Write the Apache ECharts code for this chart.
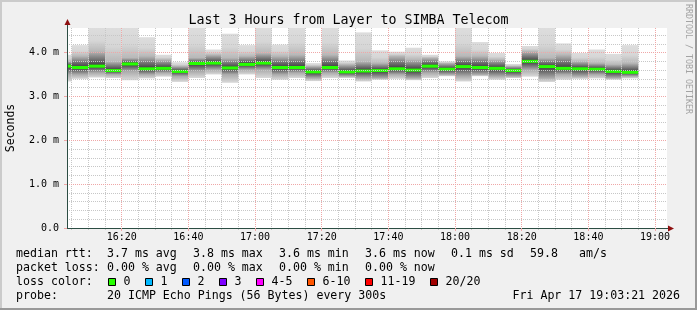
<!DOCTYPE html>
<html><head><meta charset="utf-8">
<script src="https://cdn.jsdelivr.net/npm/echarts@6/dist/echarts.min.js"></script>
<style>html,body{margin:0;padding:0;background:#f0f0f0}#c{width:697px;height:310px}</style>
</head><body><div id="c"></div>
<script>
// Minutes after 16:00 at which each 5-minute bin ends
const binEnd = [5,10,15,20,25,30,35,40,45,50,55,60,65,70,75,80,85,90,95,100,105,110,115,120,125,130,135,140,145,150,155,160,165,170,175];
// Median RTT per bin (ms)
const medianRtt = [3.69,3.66,3.69,3.59,3.74,3.63,3.64,3.57,3.75,3.76,3.65,3.73,3.76,3.66,3.66,3.56,3.66,3.56,3.58,3.59,3.63,3.60,3.69,3.62,3.68,3.66,3.64,3.59,3.80,3.68,3.64,3.63,3.62,3.57,3.55];
// Smoke envelope: highest ping, upper dense band, lower dense band, lowest ping (ms)
const smokeMax = [3.95,4.17,4.57,4.57,4.57,4.35,3.95,3.78,4.57,4.07,4.43,4.17,4.57,4.18,4.57,3.76,4.57,3.82,4.46,4.05,4.02,4.11,3.95,3.80,4.57,4.24,3.99,3.74,4.15,4.57,4.21,3.99,4.07,3.97,4.17];
const smokeUpper = [3.80,3.92,4.03,3.80,3.88,3.92,3.84,3.69,3.88,3.95,3.88,3.92,3.99,3.92,3.95,3.69,3.95,3.73,3.80,3.76,3.92,3.84,3.88,3.76,3.92,3.92,3.84,3.69,4.03,3.88,3.95,3.80,3.76,3.73,3.76];
const smokeLower = [3.50,3.50,3.54,3.50,3.57,3.50,3.54,3.46,3.57,3.61,3.50,3.61,3.61,3.50,3.54,3.42,3.54,3.46,3.42,3.42,3.50,3.42,3.54,3.50,3.46,3.50,3.46,3.46,3.61,3.42,3.50,3.46,3.50,3.42,3.46];
const smokeMin = [3.34,3.40,3.43,3.42,3.37,3.41,3.45,3.33,3.42,3.50,3.31,3.50,3.42,3.38,3.42,3.35,3.42,3.42,3.34,3.38,3.40,3.37,3.42,3.46,3.34,3.46,3.38,3.42,3.45,3.33,3.38,3.40,3.41,3.38,3.41];
// Axis ticks
const xMinorTicks = [5,10,15,20,25,30,35,40,45,50,55,60,65,70,75,80,85,90,95,100,105,110,115,120,125,130,135,140,145,150,155,160,165,170,175,180];
const xMajorTicks = [20,40,60,80,100,120,140,160,180];
const xMajorLabels = ['16:20','16:40','17:00','17:20','17:40','18:00','18:20','18:40','19:00'];
const yMajorLabels = ['0.0','1.0 m','2.0 m','3.0 m','4.0 m'];
// Legend texts
const titleText = 'Last 3 Hours from Layer to SIMBA Telecom';
const rttStats = ['3.7 ms avg','3.8 ms max','3.6 ms min','3.6 ms now','0.1 ms sd'];
const rttExtra = ['59.8','am/s'];
const lossStats = ['0.00 % avg','0.00 % max','0.00 % min','0.00 % now'];
const lossLabels = ['0','1','2','3','4-5','6-10','11-19','20/20'];
const lossColors = ['#26ff00','#00b8ff','#0059ff','#7e00ff','#ff00ff','#ff5500','#ff0000','#a10000'];
const probeText = '20 ICMP Echo Pings (56 Bytes) every 300s';
const stampText = 'Fri Apr 17 19:03:21 2026';

const X_MIN = 3.58, X_MAX = 183.58, Y_MAX = 4.56;
const MONO = '"DejaVu Sans Mono", monospace';
const GRID_C = '#c7c7c7', MGRID_C = '#efa7a7', AXIS_C = '#2c4d43', ARROW_C = '#8e1010';

const chart = echarts.init(document.getElementById('c'), null, {renderer: 'canvas'});

function renderSmoke(params, api) {
  const cs = params.coordSys;
  const end = api.value(0);
  const lo = api.value(1), q1 = api.value(2), med = api.value(3), q3 = api.value(4), hi = api.value(5);
  let x0 = api.coord([end - 5, 0])[0];
  const x1 = api.coord([end, 0])[0];
  x0 = Math.max(x0, cs.x);
  const yHi = Math.max(api.coord([end, hi])[1], cs.y);
  const yLo = api.coord([end, lo])[1];
  const yQ3 = api.coord([end, q3])[1], yMed = api.coord([end, med])[1], yQ1 = api.coord([end, q1])[1];
  const h = yLo - yHi;
  const off = y => Math.min(1, Math.max(0, (y - yHi) / h));
  const oQ3 = off(yQ3), oMed = off(yMed), oQ1 = off(yQ1);
  return {
    type: 'group',
    children: [
      {type: 'rect', shape: {x: x0, y: yHi, width: x1 - x0, height: h},
       style: {fill: new echarts.graphic.LinearGradient(0, 0, 0, 1, [
         {offset: 0, color: '#dddddd'},
         {offset: oQ3 * 0.55, color: '#d6d6d6'},
         {offset: oQ3, color: '#b8b8b8'},
         {offset: oMed, color: '#3a3a3a'},
         {offset: oQ1, color: '#ababab'},
         {offset: 1, color: '#dadada'}])}},
      {type: 'line', shape: {x1: x0, y1: yMed, x2: x1, y2: yMed},
       style: {stroke: lossColors[0], lineWidth: 3}}
    ]
  };
}

// Legend graphics
const txt = (text, x, y, align) => ({type: 'text', x: x, y: y,
  style: {text: text, fill: '#000', fontFamily: MONO, fontSize: 11.6, verticalAlign: 'middle', align: align || 'left'}});
const graphics = [];
// frame
graphics.push({type: 'rect', shape: {x: 0, y: 0, width: 697, height: 2}, style: {fill: '#cbcbcb'}});
graphics.push({type: 'rect', shape: {x: 0, y: 0, width: 2, height: 310}, style: {fill: '#cbcbcb'}});
graphics.push({type: 'rect', shape: {x: 0, y: 308, width: 697, height: 2}, style: {fill: '#999999'}});
graphics.push({type: 'rect', shape: {x: 695, y: 0, width: 2, height: 310}, style: {fill: '#999999'}});
// axis extensions and arrows
graphics.push({type: 'line', shape: {x1: 67.5, y1: 28, x2: 67.5, y2: 24}, style: {stroke: AXIS_C, lineWidth: 1}});
graphics.push({type: 'polygon', shape: {points: [[64.5, 25], [70.5, 25], [67.5, 19]]}, style: {fill: ARROW_C}});
graphics.push({type: 'line', shape: {x1: 667, y1: 228.5, x2: 670, y2: 228.5}, style: {stroke: AXIS_C, lineWidth: 1}});
graphics.push({type: 'polygon', shape: {points: [[668, 225.5], [668, 231.5], [674, 228.5]]}, style: {fill: ARROW_C}});
// right vertical credit
graphics.push({type: 'text', x: 688, y: 4, rotation: -Math.PI / 2,
  style: {text: 'RRDTOOL / TOBI OETIKER', fill: '#a3a3a3', fontFamily: MONO, fontSize: 8.3, align: 'left', verticalAlign: 'middle'}});
// row 1
graphics.push(txt('median rtt:', 16, 254));
rttStats.forEach((s, i) => graphics.push(txt(s, 107 + 86 * i, 254)));
graphics.push(txt(rttExtra[0], 530, 254));
graphics.push(txt(rttExtra[1], 579, 254));
// row 2
graphics.push(txt('packet loss:', 16, 268));
lossStats.forEach((s, i) => graphics.push(txt(s, 107 + 86 * i, 268)));
// row 3
graphics.push(txt('loss color:', 16, 282));
let bx = 108.5;
lossLabels.forEach((s, i) => {
  graphics.push({type: 'rect', shape: {x: bx, y: 278.5, width: 7, height: 7}, style: {fill: lossColors[i], stroke: '#000', lineWidth: 1}});
  graphics.push(txt(s, bx + 15, 282));
  bx = bx + 15 + s.length * 7 + 15;
});
// row 4
graphics.push(txt('probe:', 16, 296));
graphics.push(txt(probeText, 107, 296));
graphics.push(txt(stampText, 680, 296, 'right'));

const fmtTime = v => { const i = xMajorTicks.indexOf(Math.round(v)); return i >= 0 ? xMajorLabels[i] : ''; };

chart.setOption({
  backgroundColor: '#f0f0f0',
  animation: false,
  title: {text: titleText, left: 'center', top: 9,
    textStyle: {fontFamily: MONO, fontSize: 13.3, fontWeight: 'normal', color: '#000'}},
  grid: {left: 67, top: 28, width: 600, height: 200, show: true, backgroundColor: '#ffffff', borderWidth: 0,
    containLabel: false, outerBoundsMode: 'none'},
  xAxis: [
    {type: 'value', min: X_MIN, max: X_MAX, position: 'bottom', z: 3,
     axisLine: {show: false, onZero: false},
     axisTick: {show: true, customValues: xMinorTicks, length: 2, lineStyle: {color: GRID_C}},
     axisLabel: {show: false},
     splitLine: {show: true, lineStyle: {color: GRID_C, type: [1, 1], width: 1}}},
    {type: 'value', min: X_MIN, max: X_MAX, position: 'bottom', z: 4,
     axisLine: {show: true, onZero: false, lineStyle: {color: AXIS_C, width: 1}},
     axisTick: {show: true, customValues: xMajorTicks, length: 3, lineStyle: {color: MGRID_C}},
     axisLabel: {show: true, customValues: xMajorTicks, formatter: fmtTime, margin: 4,
       fontFamily: MONO, fontSize: 10, color: '#000'},
     splitLine: {show: true, lineStyle: {color: MGRID_C, type: [1, 1], width: 1}}}
  ],
  yAxis: [
    {type: 'value', min: 0, max: Y_MAX, interval: 0.2, position: 'left', z: 3,
     axisLine: {show: false}, axisTick: {show: false}, axisLabel: {show: false},
     splitLine: {show: true, showMaxLine: false, lineStyle: {color: GRID_C, type: [1, 1], width: 1}}},
    {type: 'value', min: 0, max: Y_MAX, interval: 1, position: 'left', z: 4,
     name: 'Seconds', nameLocation: 'middle', nameRotate: 90, nameGap: 50,
     nameTextStyle: {fontFamily: MONO, fontSize: 11.5, color: '#000'},
     axisLine: {show: true, lineStyle: {color: AXIS_C, width: 1}},
     axisTick: {show: true, length: 3, lineStyle: {color: MGRID_C}},
     axisLabel: {show: true, showMaxLabel: false, margin: 8, fontFamily: MONO, fontSize: 10, color: '#000',
       formatter: v => (Math.abs(v - Math.round(v)) < 1e-6 && v <= 4) ? yMajorLabels[Math.round(v)] : ''},
     splitLine: {show: true, showMaxLine: false, lineStyle: {color: MGRID_C, type: [1, 1], width: 1}}}
  ],
  graphic: graphics,
  series: [{
    type: 'custom',
    xAxisIndex: 0, yAxisIndex: 0, z: 2,
    renderItem: renderSmoke,
    encode: {x: 0, y: [1, 5]},
    data: binEnd.map((t, i) => [t, smokeMin[i], smokeLower[i], medianRtt[i], smokeUpper[i], smokeMax[i]])
  }]
});
</script></body></html>
